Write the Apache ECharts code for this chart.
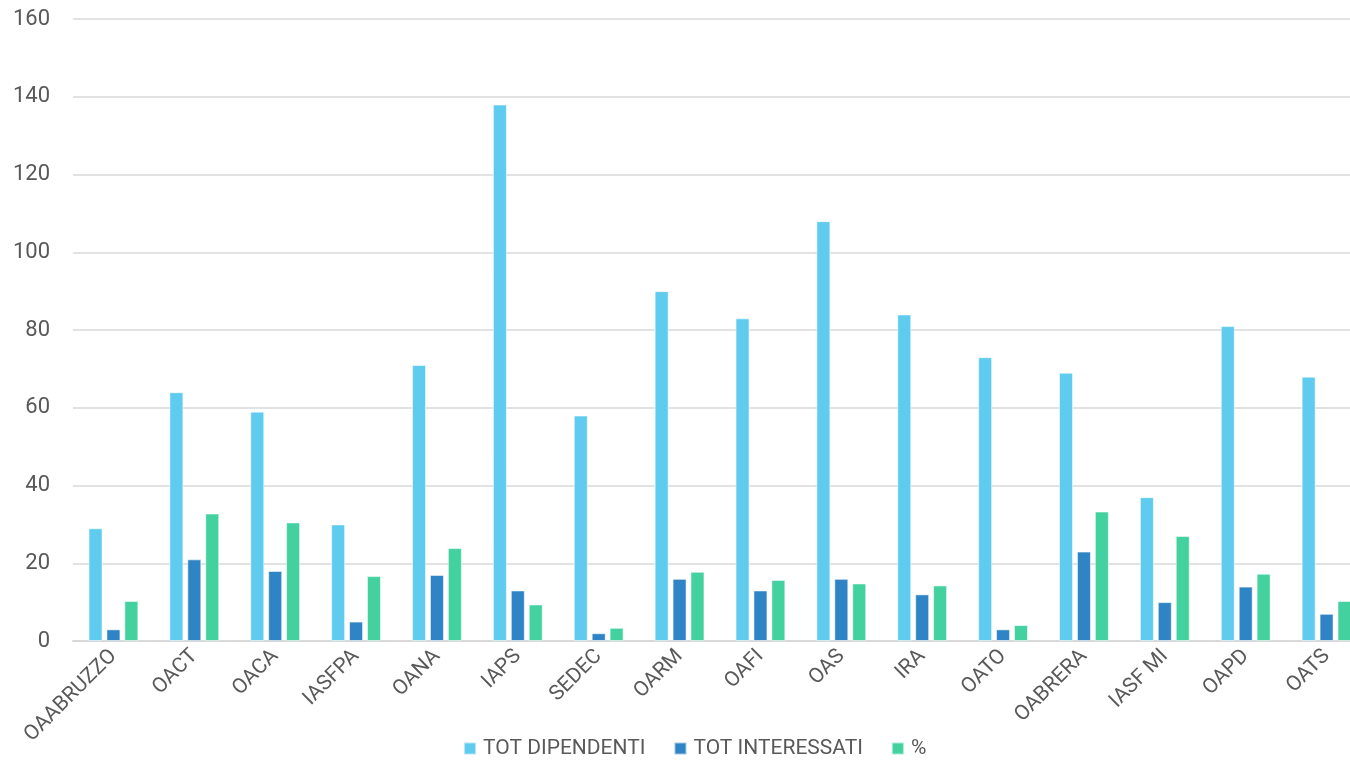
<!DOCTYPE html>
<html>
<head>
<meta charset="utf-8">
<title>Dipendenti e interessati per struttura</title>
<script src="https://cdn.jsdelivr.net/npm/echarts@6/dist/echarts.min.js"></script>
<style>
  html, body { margin: 0; padding: 0; background: #ffffff; overflow: hidden; }
  #chart { width: 1350px; height: 763px; }
</style>
</head>
<body>
<div id="chart"></div>
<script>
// Strutture
const categories = ['OAABRUZZO', 'OACT', 'OACA', 'IASFPA', 'OANA', 'IAPS', 'SEDEC', 'OARM',
  'OAFI', 'OAS', 'IRA', 'OATO', 'OABRERA', 'IASF MI', 'OAPD', 'OATS'];

// Totale dipendenti per struttura
const totDipendenti = [29, 64, 59, 30, 71, 138, 58, 90, 83, 108, 84, 73, 69, 37, 81, 68];

// Totale interessati per struttura
const totInteressati = [3, 21, 18, 5, 17, 13, 2, 16, 13, 16, 12, 3, 23, 10, 14, 7];

// Percentuale interessati sul totale
const percentuale = [10.3, 32.8, 30.5, 16.7, 23.9, 9.4, 3.4, 17.8, 15.7, 14.8, 14.3, 4.1, 33.3, 27.0, 17.3, 10.3];

// Tacche dell'asse verticale
const yTicks = { min: 0, max: 160, interval: 20 };

const textColor = '#595959';
const gridColor = '#d9d9d9';
const fontFamily = 'Roboto, "Open Sans", sans-serif';

const chart = echarts.init(document.getElementById('chart'), null, { renderer: 'canvas' });

const barBorder = { borderColor: 'rgba(255,255,255,0.55)', borderWidth: 1 };

chart.setOption({
  animation: false,
  textStyle: { fontFamily: fontFamily },
  // l'area del grafico prosegue oltre il bordo destro: l'ultima colonna resta tagliata
  grid: {
    left: 73, width: 1294, top: 19, bottom: 122,
    containLabel: false,
    outerBoundsMode: 'none'
  },
  legend: {
    left: 463,
    top: 738,
    padding: 0,
    itemWidth: 12,
    itemHeight: 12,
    itemGap: 28,
    icon: 'rect',
    textStyle: { color: textColor, fontSize: 21, fontFamily: fontFamily, padding: [0, 0, 0, 2] },
    data: ['TOT DIPENDENTI', 'TOT INTERESSATI', '%']
  },
  xAxis: {
    type: 'category',
    data: categories,
    axisLine: { lineStyle: { color: gridColor, width: 2 } },
    axisTick: { show: false },
    axisLabel: {
      color: textColor,
      fontSize: 21,
      rotate: 45,
      margin: 12,
      interval: 0
    }
  },
  yAxis: {
    type: 'value',
    min: yTicks.min,
    max: yTicks.max,
    interval: yTicks.interval,
    axisLine: { show: false },
    axisTick: { show: false },
    axisLabel: { color: textColor, fontSize: 22, margin: 23 },
    splitLine: { lineStyle: { color: gridColor, width: 1.5 } }
  },
  series: [
    {
      name: 'TOT DIPENDENTI',
      type: 'bar',
      data: totDipendenti,
      barWidth: 14,
      barGap: '28%',
      itemStyle: Object.assign({ color: '#5ecbef' }, barBorder)
    },
    {
      name: 'TOT INTERESSATI',
      type: 'bar',
      data: totInteressati,
      barWidth: 14,
      barGap: '28%',
      itemStyle: Object.assign({ color: '#2e84c4' }, barBorder)
    },
    {
      name: '%',
      type: 'bar',
      data: percentuale,
      barWidth: 14,
      barGap: '28%',
      itemStyle: Object.assign({ color: '#43d1a0' }, barBorder)
    }
  ]
});
</script>
</body>
</html>
